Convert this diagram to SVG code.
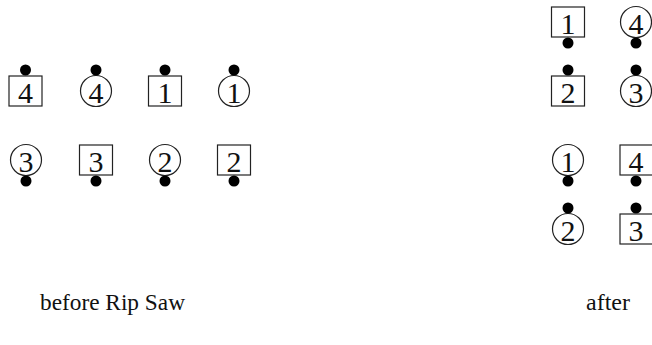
<svg xmlns="http://www.w3.org/2000/svg" width="652" height="345" viewBox="0 0 652 345">
<style>
.b{fill:#fff;stroke:#222;stroke-width:1.2}
.c{fill:#fff;stroke:#222;stroke-width:1.2}
.d{fill:#000}
.t{font-family:"Liberation Serif","DejaVu Serif",serif;font-size:30px;fill:#111;text-anchor:middle;dominant-baseline:central}
.l{font-family:"Liberation Serif","DejaVu Serif",serif;font-size:23px;fill:#111}
</style>
<rect width="652" height="345" fill="#fff"/>
<g id="before">
<g id="sq4a"><rect class="b" x="9" y="76" width="33" height="30"/><circle class="d" cx="25.5" cy="70" r="5.5"/><text class="t" x="25.5" y="92">4</text></g>
<g id="ci4a"><circle class="c" cx="96" cy="91" r="15.5"/><circle class="d" cx="96" cy="70" r="5.5"/><text class="t" x="96" y="92">4</text></g>
<g id="sq1a"><rect class="b" x="148.5" y="76" width="33" height="30"/><circle class="d" cx="165" cy="70" r="5.5"/><text class="t" x="165" y="92">1</text></g>
<g id="ci1a"><circle class="c" cx="234" cy="91" r="15.5"/><circle class="d" cx="234" cy="70" r="5.5"/><text class="t" x="234" y="92">1</text></g>
<g id="ci3a"><circle class="c" cx="26" cy="160" r="15.5"/><circle class="d" cx="26" cy="181" r="5.5"/><text class="t" x="26" y="161">3</text></g>
<g id="sq3a"><rect class="b" x="79.5" y="145" width="33" height="30"/><circle class="d" cx="96" cy="181" r="5.5"/><text class="t" x="96" y="161">3</text></g>
<g id="ci2a"><circle class="c" cx="165" cy="160" r="15.5"/><circle class="d" cx="165" cy="181" r="5.5"/><text class="t" x="165" y="161">2</text></g>
<g id="sq2a"><rect class="b" x="217.5" y="145" width="33" height="30"/><circle class="d" cx="234" cy="181" r="5.5"/><text class="t" x="234" y="161">2</text></g>
</g>
<g id="after">
<g id="sq1b"><rect class="b" x="551.5" y="7" width="33" height="30"/><circle class="d" cx="568" cy="43" r="5.5"/><text class="t" x="568" y="23">1</text></g>
<g id="ci4b"><circle class="c" cx="636" cy="22" r="15.5"/><circle class="d" cx="636" cy="43" r="5.5"/><text class="t" x="636" y="23">4</text></g>
<g id="sq2b"><rect class="b" x="551.5" y="76" width="33" height="30"/><circle class="d" cx="568" cy="70" r="5.5"/><text class="t" x="568" y="92">2</text></g>
<g id="ci3b"><circle class="c" cx="636" cy="91" r="15.5"/><circle class="d" cx="636" cy="70" r="5.5"/><text class="t" x="636" y="92">3</text></g>
<g id="ci1b"><circle class="c" cx="568" cy="160" r="15.5"/><circle class="d" cx="568" cy="181" r="5.5"/><text class="t" x="568" y="161">1</text></g>
<g id="sq4b"><rect class="b" x="620" y="145" width="33" height="30"/><circle class="d" cx="636" cy="181" r="5.5"/><text class="t" x="636" y="161">4</text></g>
<g id="ci2b"><circle class="c" cx="568" cy="229" r="15.5"/><circle class="d" cx="568" cy="208" r="5.5"/><text class="t" x="568" y="230">2</text></g>
<g id="sq3b"><rect class="b" x="620" y="214" width="33" height="30"/><circle class="d" cx="636" cy="208" r="5.5"/><text class="t" x="636" y="230">3</text></g>
</g>
<g id="connectors"/>
<text class="l" x="40" y="310" textLength="145" lengthAdjust="spacingAndGlyphs">before Rip Saw</text>
<text class="l" x="586" y="310" textLength="44" lengthAdjust="spacingAndGlyphs">after</text>
</svg>
